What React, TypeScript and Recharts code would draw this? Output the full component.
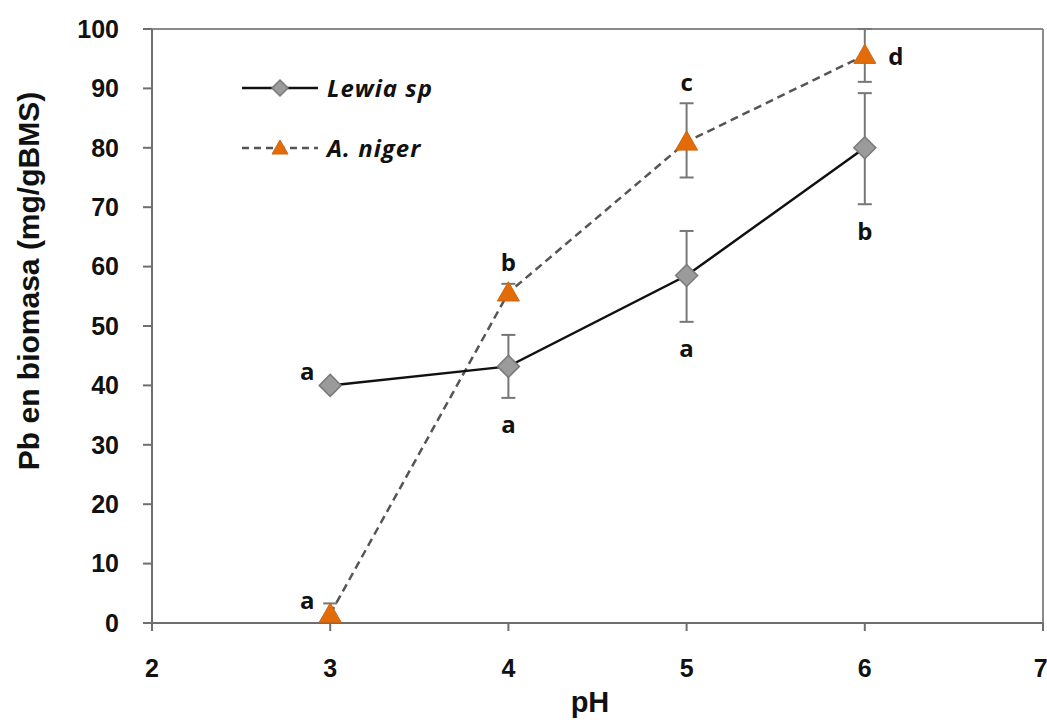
import React from "react";
import { LineChart, Line, XAxis, YAxis, ErrorBar, LabelList, ReferenceLine, Legend } from "recharts";

// pH values on the x axis
const phValues = [3, 4, 5, 6];

// Lewia sp: mean Pb and [down, up] error
const lewiaPb = [40, 43.2, 58.5, 80];
const lewiaErr = [[0, 0], [5.3, 5.3], [7.8, 7.5], [9.5, 9.2]];
const lewiaLetters = ["a", "a", "a", "b"];

// A. niger
const nigerPb = [1.5, 55.6, 81, 95.6];
const nigerErr = [[1.5, 1.8], [1, 1.5], [6, 6.5], [4.5, 4.4]];
const nigerLetters = ["a", "b", "c", "d"];

const xTicks = [2, 3, 4, 5, 6, 7];
const yTicks = [0, 10, 20, 30, 40, 50, 60, 70, 80, 90, 100];

const W = 1047;
const H = 723;
const M = { top: 29, right: 4, left: 0, bottom: 0 };
const X_AXIS_H = 100;
const pxPerUnit = (H - M.top - X_AXIS_H) / 100;

const axisColor = "#6e6e6e";
const orange = "#e36c0a";

const data = phValues.map((ph, i) => ({
  ph,
  lewia: lewiaPb[i],
  lewiaErr: lewiaErr[i],
  lewiaLetter: lewiaLetters[i],
  niger: nigerPb[i],
  nigerErr: nigerErr[i],
  nigerLetter: nigerLetters[i],
}));

const Diamond = ({ cx, cy, r = 11 }: any) => (
  <path
    d={`M${cx},${cy - r} L${cx + r},${cy} L${cx},${cy + r} L${cx - r},${cy} Z`}
    fill="#9b9b9b"
    stroke="#7a7a7a"
    strokeWidth={1.5}
  />
);

const Triangle = ({ cx, cy, r = 11 }: any) => (
  <path
    d={`M${cx},${cy - r} L${cx + r},${cy + r * 0.75} L${cx - r},${cy + r * 0.75} Z`}
    fill={orange}
    stroke="#d0640c"
    strokeWidth={1}
  />
);

// where each significance letter goes relative to its point
const lewiaSides = ["left", "below", "below", "below"];
const nigerSides = ["left", "above", "above", "right"];

const letterLabel = (errs: number[][], sides: string[]) => (props: any) => {
  const { x, y, value, index } = props;
  const side = sides[index];
  let dx = 0;
  let dy = 0;
  if (side === "left") { dx = -23; dy = -15; }
  if (side === "right") { dx = 31; dy = 0; }
  if (side === "below") dy = errs[index][0] * pxPerUnit + 26;
  if (side === "above") dy = -(errs[index][1] * pxPerUnit + 22);
  return (
    <text
      x={x + dx}
      y={y + dy}
      textAnchor="middle"
      dominantBaseline="central"
      fontFamily="'Open Sans', sans-serif"
      fontWeight={700}
      fontSize={24}
      fill="#111"
    >
      {value}
    </text>
  );
};

const legendText = {
  fontFamily: "'Open Sans', sans-serif",
  fontWeight: 700,
  fontStyle: "italic",
  fontSize: 24,
  letterSpacing: 1,
  fill: "#111",
};

const LegendBox = () => (
  <svg width={240} height={100}>
    <line x1={7} y1={18} x2={83} y2={18} stroke="#111" strokeWidth={2.5} />
    <Diamond cx={45} cy={18} r={8} />
    <text x={92} y={27} style={legendText}>Lewia sp</text>
    <line x1={7} y1={78} x2={83} y2={78} stroke="#555" strokeWidth={2.5} strokeDasharray="7 5" />
    <Triangle cx={45} cy={78} r={8} />
    <text x={92} y={87} style={legendText}>A. niger</text>
  </svg>
);

const tickStyle = { fontFamily: "'Liberation Sans', Arial, sans-serif", fontWeight: 700, fontSize: 25, fill: "#111" };

const YTitle = () => (
  <text
    x={28}
    y={281}
    transform="rotate(-90 28 281)"
    textAnchor="middle"
    dominantBaseline="central"
    style={{ ...tickStyle, fontSize: 30 }}
  >
    Pb en biomasa (mg/gBMS)
  </text>
);

const XTitle = () => (
  <text
    x={590}
    y={702}
    textAnchor="middle"
    dominantBaseline="central"
    style={{ ...tickStyle, fontSize: 29 }}
  >
    pH
  </text>
);

export default function App() {
  return (
    <div style={{ position: "absolute", left: 0, top: 0, width: W, height: H, background: "#fff" }}>
      <LineChart width={W} height={H} data={data} margin={M}>
        <XAxis
          dataKey="ph"
          type="number"
          domain={[2, 7]}
          ticks={xTicks}
          height={X_AXIS_H}
          stroke={axisColor}
          strokeWidth={2}
          tickSize={8}
          tickMargin={28}
          tick={tickStyle}
          label={<XTitle />}
        />
        <YAxis
          type="number"
          domain={[0, 100]}
          ticks={yTicks}
          width={152}
          stroke={axisColor}
          strokeWidth={2}
          tickSize={9}
          tickMargin={24}
          tick={tickStyle}
          label={<YTitle />}
        />
        <ReferenceLine y={100} stroke="#8a8a8a" strokeWidth={2} />
        <ReferenceLine x={7} stroke="#8a8a8a" strokeWidth={2} />
        <Legend
          layout="vertical"
          align="center"
          verticalAlign="middle"
          content={() => <LegendBox />}
          wrapperStyle={{ left: 235, top: 70, width: 240, height: 100 }}
        />
        <Line
          dataKey="niger"
          name="A. niger"
          stroke="#555"
          strokeWidth={2.5}
          strokeDasharray="8 5"
          dot={(p: any) => <Triangle key={`t${p.index}`} cx={p.cx} cy={p.cy} />}
          isAnimationActive={false}
        >
          <ErrorBar dataKey="nigerErr" direction="y" width={7} stroke="#777" strokeWidth={2} />
          <LabelList dataKey="nigerLetter" content={letterLabel(nigerErr, nigerSides)} />
        </Line>
        <Line
          dataKey="lewia"
          name="Lewia sp"
          stroke="#111"
          strokeWidth={2.5}
          dot={(p: any) => <Diamond key={`d${p.index}`} cx={p.cx} cy={p.cy} />}
          isAnimationActive={false}
        >
          <ErrorBar dataKey="lewiaErr" direction="y" width={7} stroke="#777" strokeWidth={2} />
          <LabelList dataKey="lewiaLetter" content={letterLabel(lewiaErr, lewiaSides)} />
        </Line>
      </LineChart>
    </div>
  );
}
